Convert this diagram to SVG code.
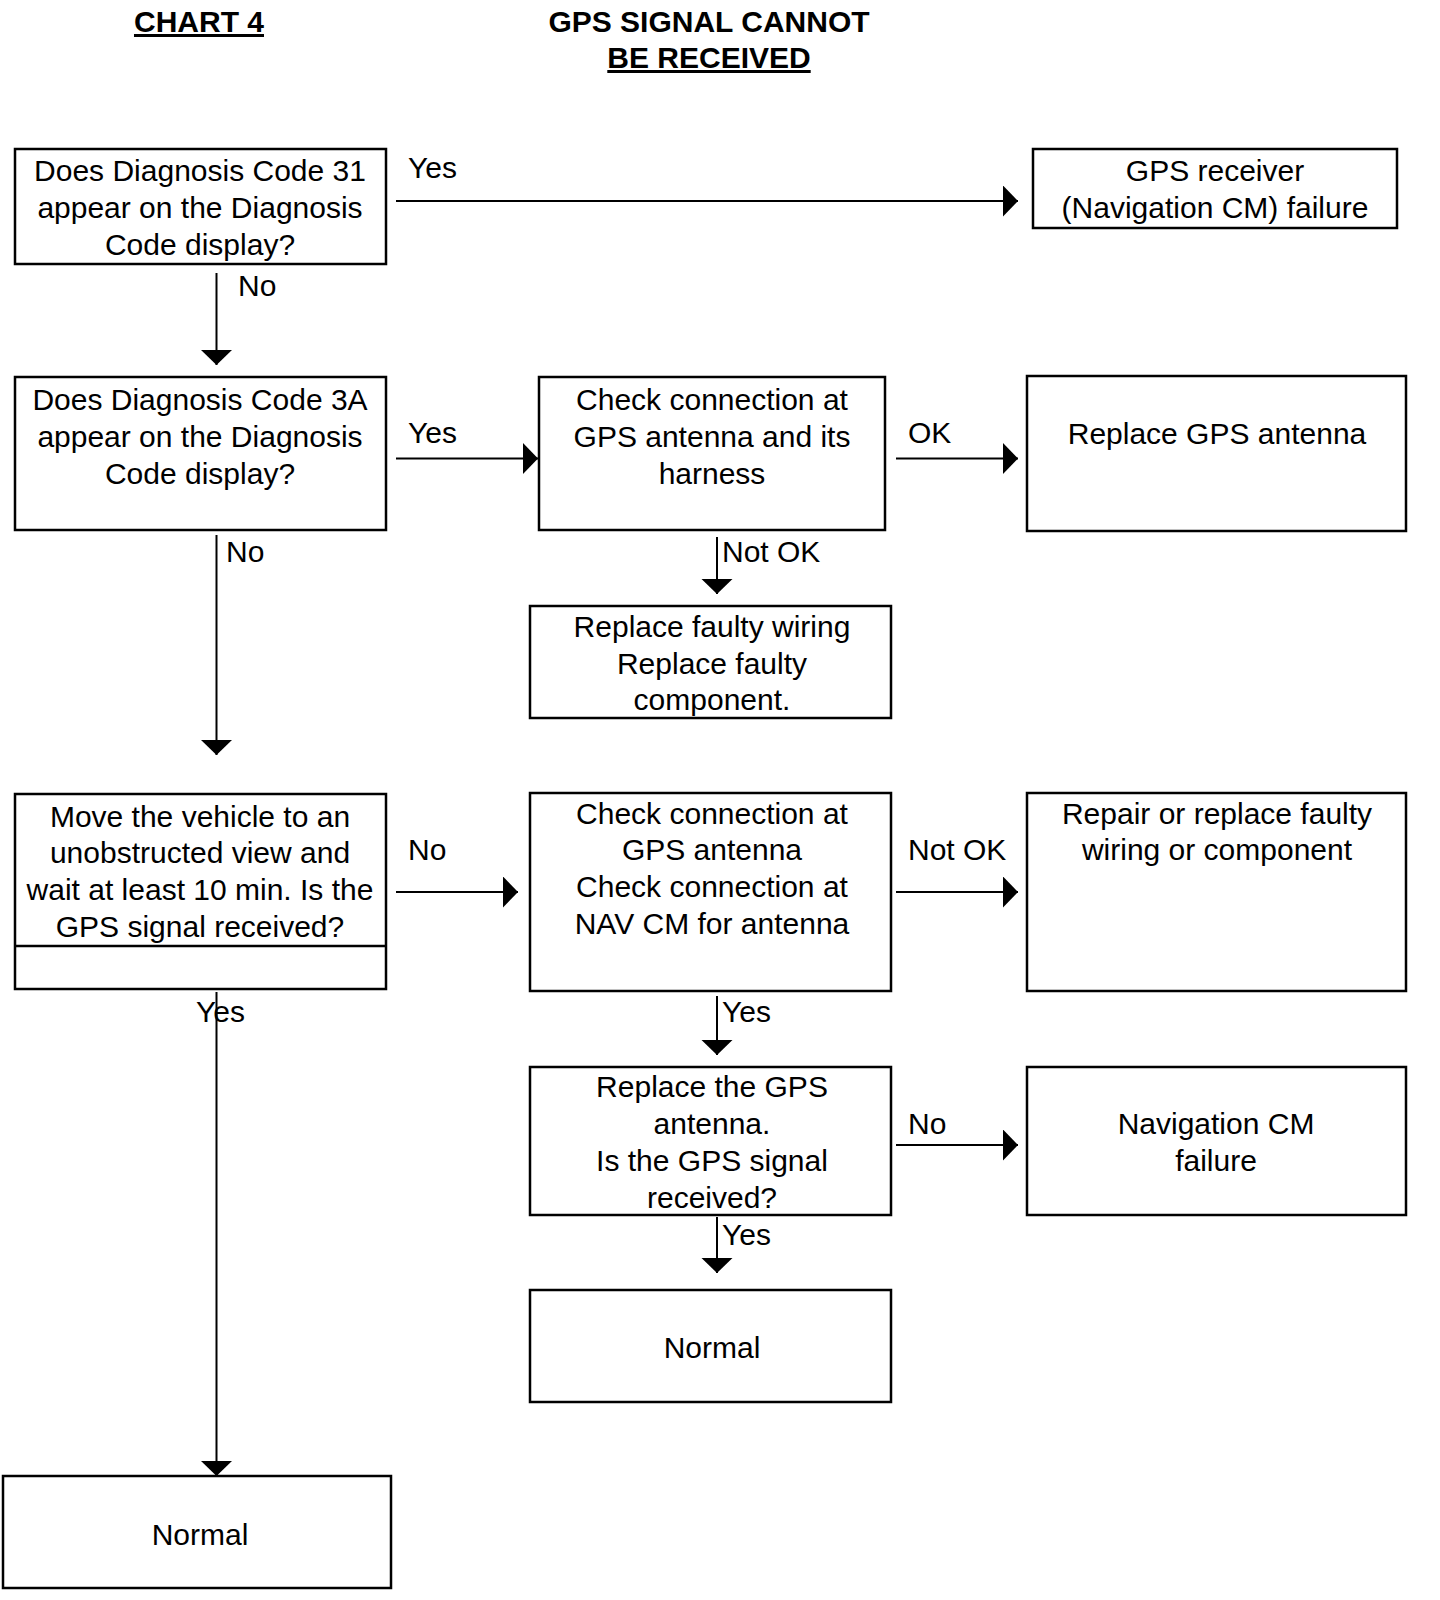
<svg xmlns="http://www.w3.org/2000/svg" width="1440" height="1600" viewBox="0 0 1440 1600">
<style>
  .box { fill: #fff; stroke: #000; stroke-width: 2.5; }
  .t { font-family: "Liberation Sans", Arial, sans-serif; font-size: 30px; fill: #000; text-anchor: middle; }
  .l { font-family: "Liberation Sans", Arial, sans-serif; font-size: 30px; fill: #000; }
  .title { font-family: "Liberation Sans", Arial, sans-serif; font-size: 30px; font-weight: bold; fill: #000; text-anchor: middle; }
  .c { stroke: #000; stroke-width: 2; fill: none; marker-end: url(#ah); }
</style>
<defs>
  <marker id="ah" markerUnits="userSpaceOnUse" markerWidth="16" markerHeight="32" refX="15" refY="15.5" orient="auto">
    <path d="M0,0 L15,15.5 L0,31 Z" fill="#000"/>
  </marker>
</defs>
<rect width="1440" height="1600" fill="#fff"/>

<g id="titles" transform="translate(0,-1)">
  <text class="title" x="199" y="33" text-decoration="underline">CHART 4</text>
  <text class="title" x="709" y="33">GPS SIGNAL CANNOT</text>
  <text class="title" x="709" y="69" text-decoration="underline">BE RECEIVED</text>
</g>

<g id="connectors">
  <line class="c" x1="396" y1="201" x2="1018" y2="201"/>
  <line class="c" x1="216.5" y1="273" x2="216.5" y2="365"/>
  <line class="c" x1="396" y1="458.5" x2="538" y2="458.5"/>
  <line class="c" x1="896" y1="458.5" x2="1018" y2="458.5"/>
  <line class="c" x1="717" y1="537" x2="717" y2="594"/>
  <line class="c" x1="216.5" y1="535" x2="216.5" y2="755"/>
  <line class="c" x1="396" y1="892" x2="518" y2="892"/>
  <line class="c" x1="896" y1="892" x2="1018" y2="892"/>
  <line class="c" x1="216.5" y1="992" x2="216.5" y2="1476"/>
  <line class="c" x1="717" y1="996" x2="717" y2="1055"/>
  <line class="c" x1="896" y1="1145" x2="1018" y2="1145"/>
  <line class="c" x1="717" y1="1217" x2="717" y2="1273"/>
  <g transform="translate(0,-1.5)">
  <text class="l" x="408" y="179">Yes</text>
  <text class="l" x="238" y="297">No</text>
  <text class="l" x="408" y="444">Yes</text>
  <text class="l" x="908" y="444">OK</text>
  <text class="l" x="722" y="563">Not OK</text>
  <text class="l" x="226" y="563">No</text>
  <text class="l" x="408" y="861">No</text>
  <text class="l" x="908" y="861">Not OK</text>
  <text class="l" x="196" y="1023">Yes</text>
  <text class="l" x="722" y="1023">Yes</text>
  <text class="l" x="908" y="1135">No</text>
  <text class="l" x="722" y="1246">Yes</text>
  </g>
</g>

<g id="q31">
  <rect class="box" x="15" y="149" width="371" height="115"/>
  <text class="t" x="200" y="180.5">Does Diagnosis Code 31</text>
  <text class="t" x="200" y="217.5">appear on the Diagnosis</text>
  <text class="t" x="200" y="254.5">Code display?</text>
</g>

<g id="gpsReceiver">
  <rect class="box" x="1033" y="149" width="364" height="79"/>
  <text class="t" x="1215" y="180.5">GPS receiver</text>
  <text class="t" x="1215" y="217.5">(Navigation CM) failure</text>
</g>

<g id="q3A">
  <rect class="box" x="15" y="377" width="371" height="153"/>
  <text class="t" x="200" y="409.5">Does Diagnosis Code 3A</text>
  <text class="t" x="200" y="446.5">appear on the Diagnosis</text>
  <text class="t" x="200" y="483.5">Code display?</text>
</g>

<g id="checkHarness">
  <rect class="box" x="539" y="377" width="346" height="153"/>
  <text class="t" x="712" y="409.5">Check connection at</text>
  <text class="t" x="712" y="446.5">GPS antenna and its</text>
  <text class="t" x="712" y="483.5">harness</text>
</g>

<g id="replaceAntenna1">
  <rect class="box" x="1027" y="376" width="379" height="155"/>
  <text class="t" x="1217" y="443.5">Replace GPS antenna</text>
</g>

<g id="replaceWiring">
  <rect class="box" x="530" y="606" width="361" height="112"/>
  <text class="t" x="712" y="636.5">Replace faulty wiring</text>
  <text class="t" x="712" y="673.5">Replace faulty</text>
  <text class="t" x="712" y="709.5">component.</text>
</g>

<g id="moveVehicle">
  <rect class="box" x="15" y="794" width="371" height="195"/>
  <line x1="15" y1="946" x2="386" y2="946" stroke="#000" stroke-width="2.5"/>
  <text class="t" x="200" y="826.5">Move the vehicle to an</text>
  <text class="t" x="200" y="862.5">unobstructed view and</text>
  <text class="t" x="200" y="899.5">wait at least 10 min. Is the</text>
  <text class="t" x="200" y="936.5">GPS signal received?</text>
</g>

<g id="checkNav">
  <rect class="box" x="530" y="793" width="361" height="198"/>
  <text class="t" x="712" y="823.5">Check connection at</text>
  <text class="t" x="712" y="859.5">GPS antenna</text>
  <text class="t" x="712" y="896.5">Check connection at</text>
  <text class="t" x="712" y="933.5">NAV CM for antenna</text>
</g>

<g id="repairWiring">
  <rect class="box" x="1027" y="793" width="379" height="198"/>
  <text class="t" x="1217" y="823.5">Repair or replace faulty</text>
  <text class="t" x="1217" y="859.5">wiring or component</text>
</g>

<g id="replaceAntenna2">
  <rect class="box" x="530" y="1067" width="361" height="148"/>
  <text class="t" x="712" y="1096.5">Replace the GPS</text>
  <text class="t" x="712" y="1133.5">antenna.</text>
  <text class="t" x="712" y="1170.5">Is the GPS signal</text>
  <text class="t" x="712" y="1207.5">received?</text>
</g>

<g id="navFailure">
  <rect class="box" x="1027" y="1067" width="379" height="148"/>
  <text class="t" x="1216" y="1133.5">Navigation CM</text>
  <text class="t" x="1216" y="1170.5">failure</text>
</g>

<g id="normalRight">
  <rect class="box" x="530" y="1290" width="361" height="112"/>
  <text class="t" x="712" y="1357.5">Normal</text>
</g>

<g id="normalBottom">
  <rect class="box" x="3" y="1476" width="388" height="112"/>
  <text class="t" x="200" y="1544.5">Normal</text>
</g>
</svg>
